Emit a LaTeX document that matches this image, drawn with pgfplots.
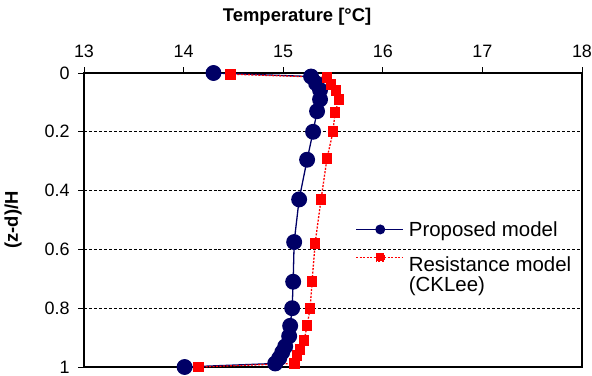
\documentclass[border=0pt]{standalone}
\usepackage{pgfplots}
\pgfplotsset{compat=1.18}
\usepackage{fontspec}
\setmainfont{Liberation Sans}
\definecolor{navy}{RGB}{0,0,102}
\begin{document}
\begin{tikzpicture}
\begin{axis}[
  scale only axis,
  width=498bp, height=294bp,
  xmin=13, xmax=18, ymin=0, ymax=1,
  y dir=reverse,
  xtick={13,14,15,16,17,18},
  ytick={0,0.2,0.4,0.6,0.8,1},
  yticklabels={0,0.2,0.4,0.6,0.8,1},
  xtick pos=right, xticklabel pos=right,
  ytick pos=left,
  tick align=outside,
  major tick length=6bp,
  axis line style={line width=1.3pt},
  every tick/.style={black, line width=1pt},
  ymajorgrids,
  major grid style={black, line width=0.9pt, dash pattern=on 3pt off 2pt},
  /pgf/number format/assume math mode=true,
  ticklabel style={font=\fontsize{18}{21}\selectfont},
  xticklabel style={yshift=6bp},
  yticklabel style={xshift=-5bp},
  xlabel={\textbf{Temperature [°C]}},
  xlabel style={font=\fontsize{18.5}{21}\selectfont, at={(axis description cs:0.428,1)}, anchor=south, yshift=44bp},
  legend style={draw=none, fill=none, at={(axis description cs:0.545,0.503)}, anchor=north west,
    font=\fontsize{20.5}{23}\selectfont, row sep=0bp, inner sep=0pt},
  legend cell align=left,
]
\addplot[navy, line width=1.3pt, mark=*, mark size=7.3bp, mark options={fill=navy, draw=navy},
  legend image code/.code={\draw[navy, line width=1.3pt] (-4bp,0bp) -- (43bp,0bp); \fill[navy] (20bp,0bp) circle (4.3bp);}]
coordinates {
(14.30,0.000) (15.28,0.012) (15.33,0.035) (15.37,0.058) (15.37,0.09) (15.34,0.13)
(15.30,0.20) (15.24,0.295) (15.16,0.43) (15.11,0.575) (15.10,0.71) (15.09,0.80)
(15.07,0.86) (15.06,0.895) (15.02,0.93) (14.99,0.95) (14.96,0.97) (14.92,0.988) (14.01,1.00)
};
\addlegendentry{\hspace{3bp}Proposed model}
\addplot[red, line width=1.3pt, dash pattern=on 2pt off 1.5pt, mark=square*, mark size=4.7bp, mark options={solid, fill=red, draw=red},
  legend image code/.code={\draw[red, line width=1.3pt, dash pattern=on 2pt off 1.5pt] (-4bp,0bp) -- (43bp,0bp); \fill[red] (16bp,-4bp) rectangle (24bp,4bp);}]
coordinates {
(14.47,0.004) (15.44,0.015) (15.48,0.038) (15.53,0.06) (15.56,0.09) (15.52,0.135)
(15.50,0.20) (15.44,0.29) (15.38,0.43) (15.32,0.58) (15.29,0.71) (15.27,0.80)
(15.24,0.86) (15.21,0.91) (15.17,0.94) (15.14,0.96) (15.11,0.988) (14.15,1.00)
};
\addlegendentry{\rule{0pt}{30bp}\hspace{3bp}Resistance model}
\addlegendimage{empty legend}
\addlegendentry{\hspace{3bp}(CKLee)}
\end{axis}
\node[rotate=90, font=\fontsize{18.5}{21}\selectfont\bfseries] at ([xshift=-71bp]current axis.west) {(z-d)/H};
\pgfresetboundingbox
\path (current axis.south west) ++(-84bp,-9bp) coordinate (bbA);
\path (current axis.north east) ++(10bp,73bp) coordinate (bbB);
\path (bbA) rectangle (bbB);
\end{tikzpicture}
\end{document}
